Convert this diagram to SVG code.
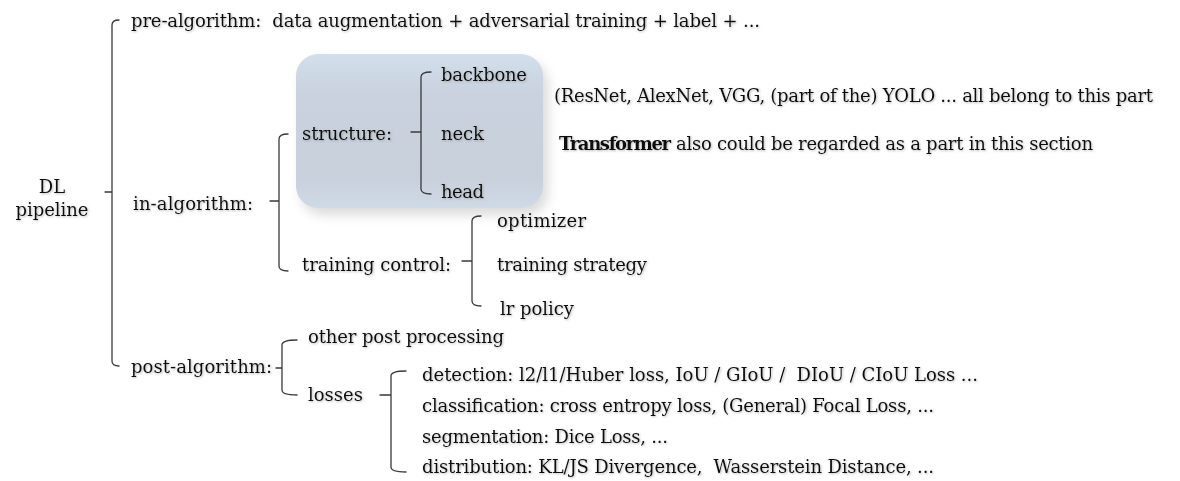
<svg xmlns="http://www.w3.org/2000/svg" width="1180" height="481" viewBox="0 0 1180 481" xml:space="preserve">
<defs>
<style>
text{font-family:"DejaVu Serif","Liberation Serif",serif;font-size:18px;fill:#0a0a0a;filter:url(#ts);white-space:pre;}
.b{font-weight:bold;}
.br{fill:none;stroke:#3a3a3a;stroke-width:1.3;stroke-linecap:round;}
</style>
<filter id="ts" x="-5%" y="-30%" width="110%" height="160%">
<feDropShadow dx="0.9" dy="0.9" stdDeviation="0.8" flood-color="#777" flood-opacity="0.55"/>
</filter>
<filter id="bs" x="-20%" y="-20%" width="140%" height="150%">
<feGaussianBlur stdDeviation="6"/>
</filter>
<linearGradient id="bg" x1="0" y1="0" x2="0" y2="1">
<stop offset="0" stop-color="#d3dfec"/>
<stop offset="0.25" stop-color="#c9d2de"/>
<stop offset="0.8" stop-color="#c8d0db"/>
<stop offset="1" stop-color="#cfdae6"/>
</linearGradient>
</defs>

<g id="box">
<rect x="301" y="61" width="247" height="154" rx="22" fill="#000" opacity="0.14" filter="url(#bs)"/>
<rect x="296" y="54" width="247" height="154" rx="22" fill="url(#bg)"/>
</g>

<g id="connectors">
<path class="br" d="M119,20 Q112,20 112,25 L112,361 Q112,366 119,366 M105,192 L112,192"/>
<path class="br" d="M288,134 Q279,134 279,139 L279,266 Q279,271 288,271 M270,201 L279,201"/>
<path class="br" d="M431,72 Q421,72 421,77 L421,189 Q421,194 431,194 M411,132 L421,132"/>
<path class="br" d="M481,216 Q472,216 472,221 L472,301 Q472,306 481,306 M462,261 L472,261"/>
<path class="br" d="M297,340 Q282,340 282,345 L282,390 Q282,395 297,395 M276,368 L282,368"/>
<path class="br" d="M406,371 Q391,371 391,376 L391,467 Q391,472 406,472 M380,395 L391,395"/>
</g>

<g id="root">
<text x="52" y="193" text-anchor="middle">DL</text>
<text x="52" y="216" text-anchor="middle" textLength="73">pipeline</text>
</g>
<g id="pre">
<text x="131" y="27" textLength="629">pre-algorithm:  data augmentation + adversarial training + label + ...</text>
</g>
<g id="in">
<text x="133" y="210" textLength="120">in-algorithm:</text>
</g>
<g id="structure">
<text x="302" y="140" textLength="90">structure:</text>
</g>
<g id="backbone"><text x="441" y="81" textLength="86">backbone</text></g>
<g id="neck"><text x="441" y="140" textLength="43">neck</text></g>
<g id="head"><text x="441" y="198" textLength="43">head</text></g>
<g id="note1">
<text x="554" y="102" textLength="599">(ResNet, AlexNet, VGG, (part of the) YOLO ... all belong to this part</text>
</g>
<g id="note2">
<text class="b" x="559" y="150" textLength="112">Transformer</text>
<text x="676" y="150" textLength="417">also could be regarded as a part in this section</text>
</g>
<g id="training">
<text x="302" y="271" textLength="149">training control:</text>
</g>
<g id="optimizer"><text x="497" y="227" textLength="89">optimizer</text></g>
<g id="strategy"><text x="497" y="271" textLength="150">training strategy</text></g>
<g id="lr"><text x="500" y="315" textLength="74">lr policy</text></g>
<g id="post">
<text x="131" y="373" textLength="141">post-algorithm:</text>
</g>
<g id="other"><text x="308" y="343" textLength="196">other post processing</text></g>
<g id="losses"><text x="308" y="401" textLength="55">losses</text></g>
<g id="detection"><text x="422" y="381" textLength="556">detection: l2/l1/Huber loss, IoU / GIoU /  DIoU / CIoU Loss ...</text></g>
<g id="classification"><text x="422" y="412" textLength="512">classification: cross entropy loss, (General) Focal Loss, ...</text></g>
<g id="segmentation"><text x="422" y="443" textLength="246">segmentation: Dice Loss, ...</text></g>
<g id="distribution"><text x="422" y="473" textLength="512">distribution: KL/JS Divergence,  Wasserstein Distance, ...</text></g>
</svg>
